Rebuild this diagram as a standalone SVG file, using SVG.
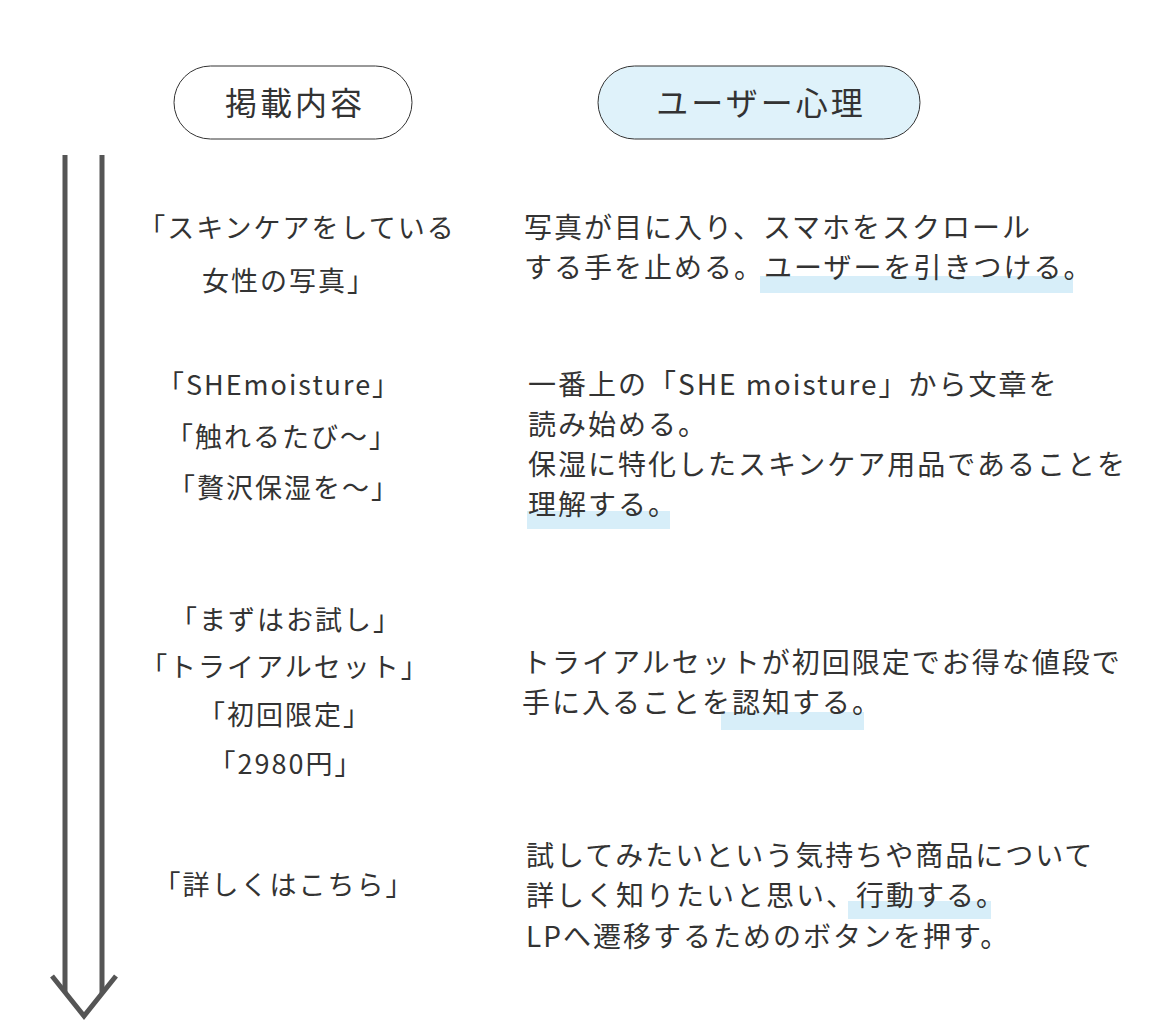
<svg xmlns="http://www.w3.org/2000/svg" width="1174" height="1036" viewBox="0 0 1174 1036">
<style>
text{font-family:"Noto Sans CJK JP","Noto Sans",sans-serif;fill:#333;}
.h{font-size:32px;letter-spacing:3px;text-anchor:middle;}
.l{font-size:27px;letter-spacing:2px;text-anchor:middle;}
.r{font-size:28px;letter-spacing:2px;}
.pill{stroke:#333;stroke-width:1;}
.hl{fill:#d7eef9;}
.arr{stroke:#555;stroke-width:5;fill:none;}
</style>
<rect width="1174" height="1036" fill="#fff"/>
<g id="header-content">
<rect class="pill" x="174" y="66" width="238" height="73" rx="36.5" fill="#fff"/>
<text class="h" x="295" y="115">掲載内容</text>
</g>
<g id="header-psychology">
<rect class="pill" x="598" y="66" width="322" height="73" rx="36.5" fill="#dff2fa"/>
<text class="h" x="761" y="115">ユーザー心理</text>
</g>
<g id="connectors">
<line class="arr" x1="65" y1="155" x2="65" y2="992"/>
<line class="arr" x1="102" y1="155" x2="102" y2="993"/>
<polyline class="arr" points="52,976 84,1016 116,976"/>
</g>
<g id="content-1">
<text class="l" x="297" y="238">「スキンケアをしている</text>
<text class="l" x="289" y="291">女性の写真」</text>
</g>
<g id="psychology-1">
<rect class="hl" x="760" y="276" width="313" height="17"/>
<text class="r" x="524" y="238">写真が目に入り、スマホをスクロール</text>
<text class="r" x="524" y="278">する手を止める。ユーザーを引きつける。</text>
</g>
<g id="content-2">
<text class="l" x="279" y="395">「SHEmoisture」</text>
<text class="l" x="282" y="447">「触れるたび〜」</text>
<text class="l" x="284" y="498">「贅沢保湿を〜」</text>
</g>
<g id="psychology-2">
<rect class="hl" x="527" y="511" width="143" height="18"/>
<text class="r" x="528" y="395">一番上の「SHE moisture」から文章を</text>
<text class="r" x="528" y="435">読み始める。</text>
<text class="r" x="528" y="475">保湿に特化したスキンケア用品であることを</text>
<text class="r" x="528" y="515">理解する。</text>
</g>
<g id="content-3">
<text class="l" x="286" y="630">「まずはお試し」</text>
<text class="l" x="285" y="677">「トライアルセット」</text>
<text class="l" x="285" y="725">「初回限定」</text>
<text class="l" x="286" y="774">「2980円」</text>
</g>
<g id="psychology-3">
<rect class="hl" x="721" y="712" width="143" height="18"/>
<text class="r" x="522" y="673">トライアルセットが初回限定でお得な値段で</text>
<text class="r" x="522" y="713">手に入ることを認知する。</text>
</g>
<g id="content-4">
<text class="l" x="284" y="895">「詳しくはこちら」</text>
</g>
<g id="psychology-4">
<rect class="hl" x="848" y="901" width="143" height="18"/>
<text class="r" x="526" y="866">試してみたいという気持ちや商品について</text>
<text class="r" x="526" y="906">詳しく知りたいと思い、行動する。</text>
<text class="r" x="526" y="947">LPへ遷移するためのボタンを押す。</text>
</g>
</svg>
